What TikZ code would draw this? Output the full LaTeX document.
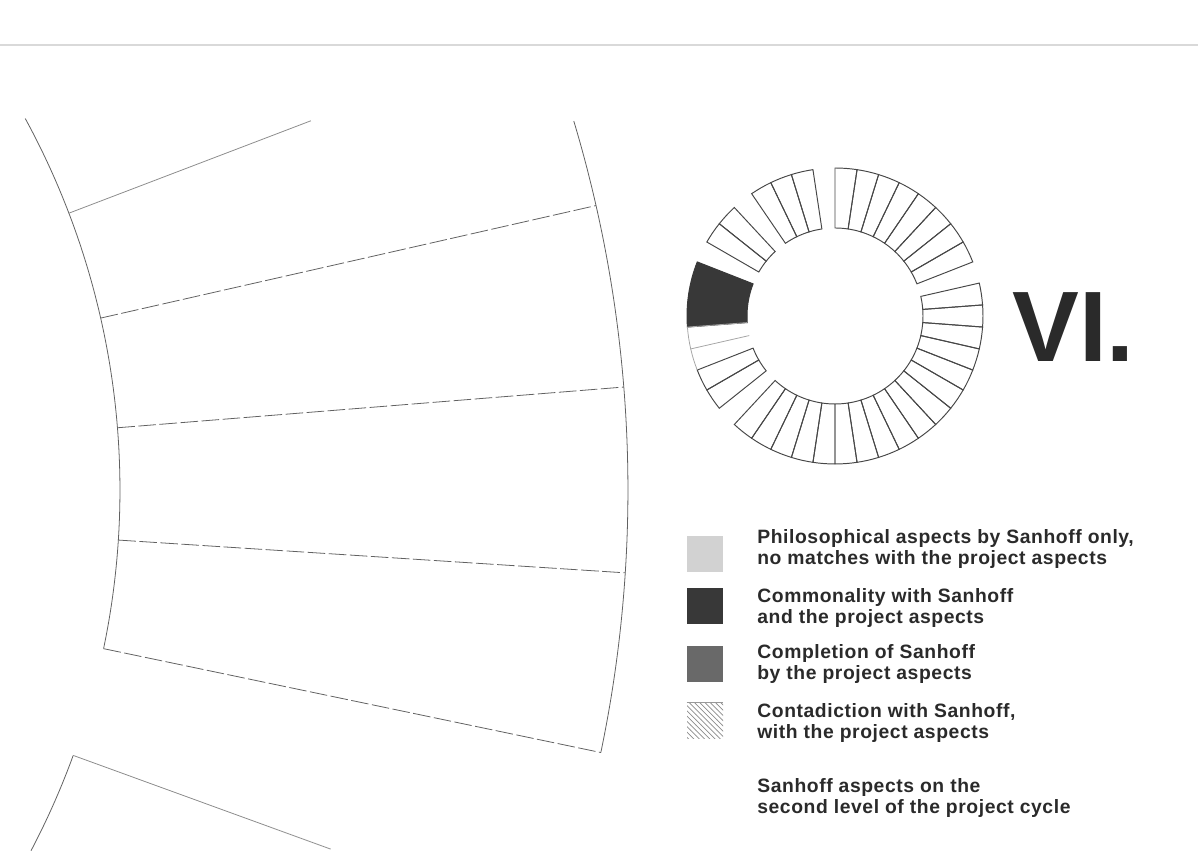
\documentclass[tikz,border=0pt]{standalone}
\usepackage{fontspec}
\setmainfont{Liberation Sans}
\usetikzlibrary{positioning,patterns}
\usepackage{xcolor}
\definecolor{segdark}{HTML}{383838}
\definecolor{segmid}{HTML}{696969}
\definecolor{seglight}{HTML}{D2D2D2}
\definecolor{inkgray}{HTML}{2A2A2A}

\begin{document}
\begin{tikzpicture}[
  x=0.02cm, y=0.02cm,
  every node/.style={font=\bfseries\fontsize{11}{12.4}\selectfont\addfontfeature{LetterSpace=3},
                     text=inkgray},
  seg/.style ={draw=black!72, line width=0.55pt},
  faint/.style={draw=black!35, line width=0.45pt},
  band/.style={draw=black!62, line width=0.45pt},
  rad/.style ={band, dash pattern=on 10pt off 2pt},
  swatch/.style={minimum width=0.72cm, minimum height=0.72cm, inner sep=0pt},
  txt/.style ={align=left, anchor=west, inner sep=0pt},
  numeral/.style={font=\bfseries\fontsize{57}{57}\selectfont, text=inkgray,
                  anchor=base west, inner sep=0pt}
]
\useasboundingbox (0,0) rectangle (1198,862);

%% ─── header rule ───────────────────────────────────────────────────────────
\draw[black!15, line width=0.6pt] (0,817) -- (1198,817);

%% ─── enlarged band (left) ──────────────────────────────────────────────────
\coordinate (bc) at (-656,372);
\begin{scope}[shift={(bc)}]
  % inner arc, one piece per cell
  \draw[band] (28.6:776) arc[start angle=28.6, end angle=12.8, radius=776];
  \draw[band] (12.8:776) arc[start angle=12.8, end angle=4.6,  radius=776];
  \draw[band] (4.6:776)  arc[start angle=4.6,  end angle=-3.7, radius=776];
  \draw[band] (-3.7:776) arc[start angle=-3.7, end angle=-11.8,radius=776];
  \draw[band] (-20:776)  arc[start angle=-20,  end angle=-27.7,radius=776];
  % outer arc
  \draw[band] (16.7:1284) arc[start angle=16.7, end angle=-11.8, radius=1284];
  % cell borders
  \draw[band, draw=black!45] (20.9:776) -- (20.9:1035);
  \foreach \t in {12.8,4.6,-3.7,-11.8}
    \draw[rad] (\t:776) -- (\t:1284);
  \draw[band, draw=black!45] (-20:776) -- (-20:1050);
\end{scope}

%% ─── ring ──────────────────────────────────────────────────────────────────
\coordinate (rc) at (835,546);
\begin{scope}[shift={(rc)}]
  \foreach \k in {1,2,3,5,6,13,14,16,17,...,32,34,35,...,41}{
    \pgfmathsetmacro\a{90+360/42*\k}
    \pgfmathsetmacro\b{\a+360/42}
    \draw[seg] (\a:88) -- (\a:148) arc[start angle=\a, end angle=\b, radius=148]
      -- (\b:88) arc[start angle=\b, end angle=\a, radius=88] -- cycle;
  }
  % commonality cells
  \draw[seg, fill=segdark, draw=segdark] (158.57:88) -- (158.57:148)
    arc[start angle=158.57, end angle=184.29, radius=148] -- (184.29:88)
    arc[start angle=184.29, end angle=158.57, radius=88] -- cycle;
  % cells left open
  \draw[faint] (184.29:88) -- (184.29:148) arc[start angle=184.29, end angle=192.86, radius=148]
    -- (192.86:88);
  \draw[faint] (192.86:148) arc[start angle=192.86, end angle=201.43, radius=148];
\end{scope}

\node[numeral] (num) at (1012,500) {VI.};

%% ─── legend ────────────────────────────────────────────────────────────────
\node[swatch, fill=seglight] (sw1) at (705,308) {};
\node[swatch, fill=segdark]  (sw2) at (705,256) {};
\node[swatch, fill=segmid]   (sw3) at (705,198) {};
\node[swatch, fill=black!8, pattern=north west lines, pattern color=black!45] (sw4) at (705,141) {};
\draw[black!40, line width=0.6pt] (sw4.north west) -- (sw4.north east);
\node[swatch, fill=white]    (sw5) at (705,64) {};

\node[txt] (lg1) at (757,313) {Philosophical aspects by Sanhoff only,\\no matches with the project aspects};
\node[txt] (lg2) at (757,254) {Commonality with Sanhoff\\and the project aspects};
\node[txt] (lg3) at (757,198) {Completion of Sanhoff\\by the project aspects};
\node[txt] (lg4) at (757,139) {Contadiction with Sanhoff,\\with the project aspects};
\node[txt] (lg5) at (757,64)  {Sanhoff aspects on the\\second level of the project cycle};

\end{tikzpicture}
\end{document}
